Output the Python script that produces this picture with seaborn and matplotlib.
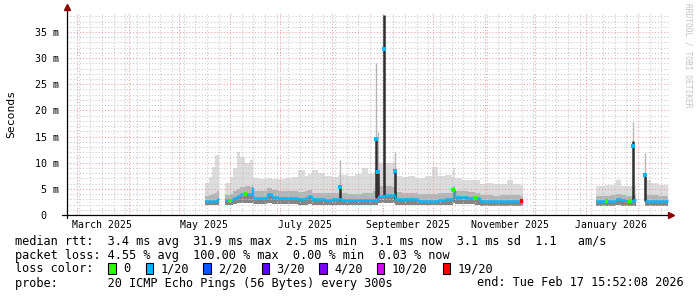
import numpy as np
import pandas as pd
import matplotlib
matplotlib.use("Agg")
import matplotlib.pyplot as plt
import matplotlib.dates as mdates
from matplotlib.ticker import MultipleLocator, NullFormatter, FixedLocator
from matplotlib.transforms import blended_transform_factory
from matplotlib.patches import Rectangle
import seaborn as sns

nan = np.nan

# ---------------- data ----------------
dates = ["2025-05-17", "2025-05-19", "2025-05-21", "2025-05-23", "2025-05-24", "2025-05-25",
         "2025-05-29", "2025-06-01", "2025-06-03", "2025-06-05", "2025-06-07", "2025-06-10",
         "2025-06-13", "2025-06-14", "2025-06-15", "2025-06-19", "2025-06-23", "2025-06-26",
         "2025-06-30", "2025-07-04", "2025-07-08", "2025-07-12", "2025-07-16", "2025-07-18",
         "2025-07-20", "2025-07-24", "2025-07-28", "2025-08-01", "2025-08-05", "2025-08-07",
         "2025-08-11", "2025-08-15", "2025-08-19", "2025-08-23", "2025-08-26", "2025-08-29",
         "2025-09-02", "2025-09-06", "2025-09-08", "2025-09-12", "2025-09-16", "2025-09-20",
         "2025-09-22", "2025-09-26", "2025-09-30", "2025-10-04", "2025-10-08", "2025-10-12",
         "2025-10-13", "2025-10-14", "2025-10-18", "2025-10-22", "2025-10-26", "2025-10-29",
         "2025-11-02", "2025-11-06", "2025-11-10", "2025-11-14", "2025-11-18", "2025-11-22",
         "2025-11-23", "2025-11-24",
         "2026-01-07", "2026-01-11", "2026-01-13", "2026-01-16", "2026-01-19", "2026-01-22",
         "2026-01-25", "2026-01-27", "2026-01-29", "2026-01-31",
         "2026-02-05", "2026-02-09", "2026-02-13", "2026-02-17", "2026-02-19"]

median_ms = [2.7, 2.7, 2.7, 2.7, 3.1, nan,
             2.8, 2.8, 3.3, 3.6, 4.0, 4.0,
             4.0, 5.2, 3.2, 3.2, 4.0, 3.5,
             3.3, 3.25, 3.2, 3.1, 3.2, 3.6,
             3.0, 3.0, 2.95, 3.0, 3.0, 2.9,
             2.85, 2.8, 2.85, 2.9, 2.9, 3.6,
             3.8, 3.8, 3.1, 3.05, 3.0, 3.0,
             2.7, 2.7, 2.75, 2.9, 3.1, 3.1,
             4.8, 3.4, 3.4, 3.3, 3.2, 2.7,
             2.7, 2.65, 2.7, 2.65, 2.7, 2.7,
             2.7, nan,
             2.7, 2.7, 2.7, 2.75, 3.05, 2.8,
             2.7, 2.7, 2.85, nan,
             2.75, 2.75, 2.75, 2.75, nan]

loss_idx = [1, 1, 1, 1, 1, 1,
            1, 0, 1, 1, 1, 0,
            1, 1, 1, 1, 1, 1,
            1, 1, 1, 1, 1, 1,
            1, 1, 1, 1, 1, 1,
            1, 1, 1, 1, 1, 1,
            1, 1, 1, 1, 1, 1,
            1, 1, 1, 1, 1, 1,
            0, 1, 1, 1, 0, 1,
            1, 1, 1, 1, 1, 1,
            6, 1,
            1, 1, 0, 1, 1, 1,
            1, 0, 1, 1,
            1, 1, 1, 1, 1]

smoke_lo = [2.0, 2.0, 2.0, 2.0, 2.0, nan,
            2.0, 2.0, 2.1, 2.2, 2.3, 2.3,
            2.3, 2.3, 2.1, 2.1, 2.2, 2.1,
            2.1, 2.1, 2.1, 2.0, 2.0, 2.1,
            2.0, 2.0, 2.0, 2.0, 2.0, 2.0,
            2.0, 2.0, 2.0, 2.0, 2.0, 2.2,
            2.3, 2.3, 2.0, 2.0, 2.0, 2.0,
            1.9, 1.9, 1.9, 1.9, 2.0, 2.0,
            2.2, 2.1, 2.1, 2.1, 2.0, 1.8,
            1.8, 1.8, 1.8, 1.8, 1.8, 1.8,
            1.8, nan,
            1.8, 1.8, 1.8, 1.8, 1.9, 1.8,
            1.8, 1.8, 1.8, nan,
            1.8, 1.8, 1.8, 1.8, nan]

smoke_mid = [3.6, 3.8, 4.0, 4.3, 4.5, nan,
             3.8, 4.0, 4.6, 5.0, 5.4, 5.5,
             5.4, 5.8, 4.6, 4.6, 5.2, 4.8,
             4.6, 4.5, 4.5, 4.4, 4.5, 4.8,
             4.3, 4.3, 4.2, 4.3, 4.3, 4.2,
             4.1, 4.1, 4.2, 4.2, 4.5, 5.5,
             5.5, 5.3, 4.4, 4.3, 4.3, 4.2,
             4.0, 4.0, 4.1, 4.2, 4.3, 4.3,
             5.6, 4.5, 4.5, 4.4, 4.3, 3.8,
             3.8, 3.7, 3.8, 3.8, 3.8, 3.7,
             3.7, nan,
             3.7, 3.7, 3.7, 3.8, 4.0, 3.8,
             3.7, 3.7, 3.8, nan,
             3.8, 3.8, 3.7, 3.7, nan]

smoke_hi = [6.1, 7.3, 9.2, 11.5, 11.5, nan,
            6.1, 7.3, 9.0, 12.0, 11.0, 10.0,
            10.5, 10.5, 7.0, 6.8, 7.0, 6.9,
            6.8, 7.0, 7.2, 8.6, 7.5, 7.8,
            8.6, 8.0, 7.4, 7.3, 7.6, 7.6,
            7.5, 7.8, 8.9, 7.8, 8.0, 10.0,
            10.0, 10.0, 7.5, 7.2, 7.5, 7.0,
            7.0, 7.4, 9.2, 7.5, 7.6, 7.0,
            8.9, 7.0, 6.7, 6.7, 6.7, 6.0,
            6.1, 5.9, 6.0, 6.7, 6.0, 5.8,
            5.8, nan,
            5.6, 5.5, 5.7, 5.8, 6.7, 5.6,
            5.5, 5.6, 5.6, nan,
            6.7, 6.2, 5.7, 5.7, nan]

spike_dates = ["2025-08-06 00:00", "2025-08-27 12:00", "2025-08-29 00:00", "2025-09-01 12:00",
               "2025-09-08 00:00", "2026-01-29 00:00", "2026-02-05 00:00"]
spike_median = [5.4, 14.6, 8.3, 31.8, 8.4, 13.1, 7.65]
spike_dark_lo = [2.9, 3.2, 3.4, 3.8, 3.1, 2.9, 2.75]
spike_dark_hi = [5.7, 14.8, 8.6, 38.3, 8.8, 14.1, 7.8]
spike_top = [10.5, 29.0, 15.9, 38.3, 12.1, 17.8, 11.9]

loss_labels = ["0", "1/20", "2/20", "3/20", "4/20", "10/20", "19/20"]
loss_colors = ["#26ff00", "#00b8ff", "#0059ff", "#5e00ff", "#7e00ff", "#dd00ff", "#ff0000"]

y_ticks = [0, 5, 10, 15, 20, 25, 30, 35]
month_label_dates = ["2025-03-16", "2025-05-16", "2025-07-16", "2025-09-16", "2025-11-16", "2026-01-16"]
month_labels = ["March 2025", "May 2025", "July 2025", "September 2025", "November 2025", "January 2026"]
x_start, x_end = "2025-02-23 00:00", "2026-02-19 14:00"

stats_line1 = "median rtt:  3.4 ms avg  31.9 ms max  2.5 ms min  3.1 ms now  3.1 ms sd  1.1   am/s"
stats_line2 = "packet loss: 4.55 % avg  100.00 % max  0.00 % min  0.03 % now"
probe_line = "probe:       20 ICMP Echo Pings (56 Bytes) every 300s"
end_line = "end: Tue Feb 17 15:52:08 2026"

# ---------------- style ----------------
sns.set_theme(style="white")
plt.rcParams["font.family"] = ["DejaVu Sans Mono", "DejaVu Sans"]

W, H = 697, 297
fig = plt.figure(figsize=(W / 100, H / 100), dpi=100, facecolor="white")
ax = fig.add_axes([67 / W, (H - 215) / H, 602 / W, 203 / H])
ax.set_facecolor("white")

t = mdates.date2num(pd.to_datetime(dates, format="ISO8601").to_pydatetime())
med = np.array(median_ms, dtype=float)
lo = np.array(smoke_lo, dtype=float)
mid = np.array(smoke_mid, dtype=float)
hi = np.array(smoke_hi, dtype=float)
w = np.diff(t)

# smoke
ax.bar(t[:-1], (hi - lo)[:-1], bottom=lo[:-1], width=w, align="edge",
       color="#dcdcdc", linewidth=0, zorder=1.0)
ax.bar(t[:-1], (mid - lo)[:-1], bottom=lo[:-1], width=w, align="edge",
       color="#b4b4b4", linewidth=0, zorder=1.1)
ax.bar(t[:-1], (med - lo)[:-1], bottom=lo[:-1], width=w, align="edge",
       color="#858585", linewidth=0, zorder=1.2)

# spikes
ts = mdates.date2num(pd.to_datetime(spike_dates, format="ISO8601").to_pydatetime())
ax.vlines(ts, spike_dark_hi, spike_top, color="#b5b5b5", lw=1.0, zorder=1.3)
ax.vlines(ts, spike_dark_lo, spike_dark_hi, color="#2e2e2e", lw=1.8, zorder=3.2)

# median line (loss 1/20 colour) with horizontal steps and small connectors
cyan = loss_colors[1]
ax.hlines(med[:-1], t[:-1], t[1:], colors=cyan, lw=1.8, zorder=4)
ax.vlines(t[1:-1], med[:-2], med[1:-1], colors=cyan, lw=1.0, zorder=4)

# loss-coloured marks
df = pd.DataFrame({"t": t, "med": med, "loss": loss_idx})
df_marks = df[(df["loss"] != 1) & df["med"].notna()]
sns.scatterplot(data=df_marks, x="t", y="med", hue="loss",
                palette={i: c for i, c in enumerate(loss_colors)},
                marker="s", s=7, linewidth=0, legend=False, ax=ax, zorder=5)
ax.scatter(ts, spike_median, marker="s", s=6, color=cyan, linewidths=0, zorder=5)
ax.set_xlabel("")
ax.set_ylabel("")

# axes limits / grid
ax.set_xlim(mdates.date2num(pd.Timestamp(x_start)), mdates.date2num(pd.Timestamp(x_end)))
ax.set_ylim(0, 38.82)
ax.xaxis.set_major_locator(mdates.MonthLocator())
ax.xaxis.set_minor_locator(mdates.WeekdayLocator(byweekday=mdates.SU))
ax.xaxis.set_major_formatter(NullFormatter())
ax.xaxis.set_minor_formatter(NullFormatter())
ax.yaxis.set_major_locator(FixedLocator(y_ticks))
ax.yaxis.set_minor_locator(MultipleLocator(1))
ax.set_yticklabels([("%d m" % v) if v else "0  " for v in y_ticks])
ax.set_axisbelow(False)
ax.grid(which="major", color="#f29a9a", linestyle=(0, (1, 2)), linewidth=0.75)
ax.grid(which="minor", color="#c6c6c6", linestyle=(0, (1, 2)), linewidth=0.75)
ax.tick_params(axis="y", which="major", length=2, width=0.7, color="#444444",
               pad=3.6, labelsize=7.2, labelcolor="black")
ax.tick_params(axis="y", which="minor", length=1.2, width=0.6, color="#666666")
ax.tick_params(axis="x", which="major", length=2, width=0.7, color="#444444")
ax.tick_params(axis="x", which="minor", length=1.2, width=0.6, color="#666666")
for s in ax.spines.values():
    s.set_visible(False)

# axis lines and arrows
ax.plot([0, 0], [-3 / 203, 1 + 3 / 203], color="black", lw=0.9,
        transform=ax.transAxes, clip_on=False, zorder=6)
ax.plot([-5 / 602, 1.0], [0, 0], color="black", lw=0.9,
        transform=ax.transAxes, clip_on=False, zorder=6)
ax.plot([0], [1 + 5 / 203], marker="^", ms=4.2, color="#8b0000",
        transform=ax.transAxes, clip_on=False, zorder=7)
ax.plot([1 + 2 / 602], [0], marker=">", ms=4.2, color="#8b0000",
        transform=ax.transAxes, clip_on=False, zorder=7)

# month labels
trans = blended_transform_factory(ax.transData, ax.transAxes)
for d, lab in zip(month_label_dates, month_labels):
    ax.text(mdates.date2num(pd.Timestamp(d)), -9.6 / 203, lab, transform=trans,
            ha="center", va="center", fontsize=7.1, color="black")

# side texts
fig.text(11 / W, 1 - 113.5 / H, "Seconds", rotation=90, ha="center", va="center",
         fontsize=8.2, color="black")
fig.text(688 / W, 1 - 55 / H, "RRDTOOL / TOBI OETIKER", rotation=270, ha="center",
         va="center", fontsize=5.7, color="#c2c2c2")

# legend / stats
fs = 8.6
fig.text(15 / W, 1 - 241.3 / H, stats_line1, ha="left", va="center", fontsize=fs, color="black")
fig.text(15 / W, 1 - 255.3 / H, stats_line2, ha="left", va="center", fontsize=fs, color="black")
fig.text(15 / W, 1 - 268.9 / H, "loss color:", ha="left", va="center", fontsize=fs, color="black")
box_x = [108.3, 145.7, 203.3, 261.7, 319.3, 376.7, 442.7]
for bx, col, lab in zip(box_x, loss_colors, loss_labels):
    fig.add_artist(Rectangle((bx / W, 1 - 274.3 / H), 7.4 / W, 11 / H,
                             transform=fig.transFigure, facecolor=col,
                             edgecolor="black", linewidth=0.8))
    fig.text((bx + 15) / W, 1 - 268.9 / H, lab, ha="left", va="center",
             fontsize=fs, color="black")
fig.text(15 / W, 1 - 283 / H, probe_line, ha="left", va="center", fontsize=fs, color="black")
fig.text(684 / W, 1 - 283 / H, end_line, ha="right", va="center", fontsize=fs, color="black")

fig.savefig("out.png", dpi=100, facecolor="white")
